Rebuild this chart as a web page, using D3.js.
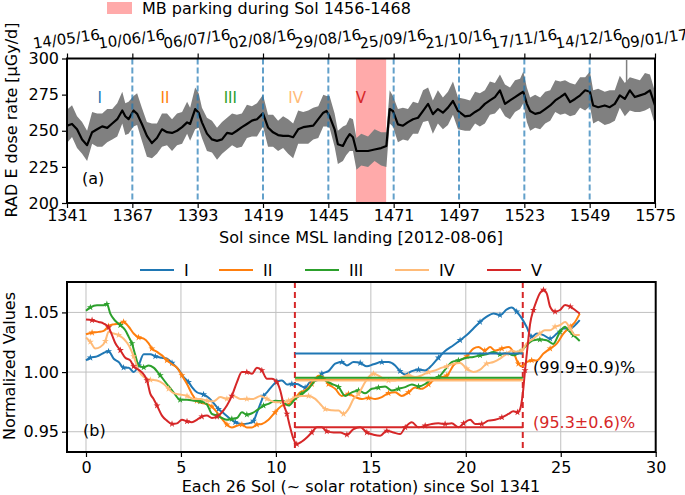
<!DOCTYPE html>
<html><head><meta charset="utf-8">
<script src="https://cdn.jsdelivr.net/npm/d3@7"></script>
<style>body{margin:0;background:#fff} text{font-family:"DejaVu Sans",sans-serif}</style>
</head><body><svg id="c" width="685" height="495"></svg>
<script>
// ---------------- DATA ----------------
const solTicks = [1341,1367,1393,1419,1445,1471,1497,1523,1549,1575];
const dateLabels = ["14/05/16","10/06/16","06/07/16","02/08/16","29/08/16","25/09/16","21/10/16","17/11/16","14/12/16","09/01/17"];
const boundarySols = [1367,1393,1419,1445,1471,1497,1523,1549];
const parkingSols = [1456,1468];
const rotationNames = ["I","II","III","IV","V"];
const rotationMid = [1354,1380,1406,1432,1458];
const doseTicks = [200,225,250,275,300];

const blackSol = [1341,1343,1345,1347,1349,1351,1353,1355,1357,1359,1361,1363,1364.2,1365.5,1367.5,1368.9,1370.8,1372.8,1374.8,1376.8,1378.8,1380.8,1382.8,1384.8,1386.8,1388.8,1390,1392,1393.4,1394.7,1396.7,1398.7,1400.7,1402.7,1404.7,1406.7,1408.6,1410.6,1412.6,1414.6,1416.6,1419,1421,1423,1425,1427,1429,1431,1433,1435,1437,1439,1441,1443,1444.3,1445.5,1447.5,1448.8,1450.8,1452.1,1453.5,1454.8,1456.2,1458.1,1460.8,1463.4,1466,1468.1,1469.4,1470.7,1472.7,1474.7,1476.7,1478.7,1480.7,1482.7,1484.7,1486.6,1488.6,1490.6,1492.6,1494.6,1496.6,1499.4,1501.4,1503.4,1505.3,1507.3,1509.3,1511.3,1513.3,1515.3,1517.3,1519.3,1521.3,1522.6,1524,1525.3,1527.3,1529.3,1531.3,1533.3,1535.3,1537.3,1539.2,1541.2,1543.2,1545.2,1547.2,1549.1,1550.4,1552.4,1555,1557,1559,1561,1563,1565,1567,1569,1571,1573,1575];
const blackRate = [253.5,254.7,251,244,240,249,251,253,252,255,258,264,260,258,264,261.7,254.7,246.5,241.5,245,251,249,248.5,250,252.5,255.8,254.7,265,262.5,255.8,248,244,243,244,248.5,247.8,250,252.5,254.7,257,258,262,252.3,248.9,247,246.5,246.5,245.5,251,252.5,253,253.5,258,262.5,263.7,260,251,240.7,239.5,244,247.7,245.5,236,236,236,237,238,239.5,265,263.7,254.4,253.5,256,258,259,263.7,268.6,261.5,265,262.5,266,270.6,263.7,260,260.5,263,265,268.6,271,273.3,278,268.6,271,273.3,275.6,277,268.6,263.7,261.7,262.5,265,267.5,271,273.3,275.6,269.8,272,274.5,278,277,267.5,266.3,267.5,266.3,268.6,274.5,272,278,273.3,274.5,275.6,278,267.5];
const grayHi = [264.5,267.7,260,256,250,263,262,262,265,265,269,277,269,270,274,276,266,256,255,255,262,262,258,262,263,270,266,280,276,266,259,257,252,256,259,262,261,262,268,267,269,275,261,261,257,260,258,255,264,263,264,266,267,275,274,274,262,250,253,254,259,258,245,248,246,251,249,249,278,274,265,266,265,270,269,278,280,271,278,273,277,284,273,272,271,277,276,278,284,283,289,282,280,285,286,291,280,273,275,273,277,278,285,284,285,283,282,287,287,291,278,279,277,278,278,288,283,287,286,285,290,289,277];
const grayLo = [241.5,245.7,238,234,229,241,239,239,242,244,246,255,247,248,253,254,243,232,231,234,239,240,236,240,241,248,243,251,252,245,236,235,230,234,237,240,238,239,245,246,246,253,239,239,236,238,234,231,241,241,241,244,245,253,253,252,239,227,229,233,236,236,223,226,225,229,226,225,255,253,242,244,243,248,248,256,257,248,255,251,254,261,251,250,250,255,253,255,261,262,266,260,258,263,265,269,256,250,252,251,255,257,263,261,262,260,261,266,264,267,255,257,254,255,257,266,260,264,263,263,264,266,254];
const spikeSol = [1563.7];
const spikeRange = [[283,299]];

// bottom panel
const rotXTicks = [0,5,10,15,20,25,30];
const normTicks = [0.95,1.00,1.05];
const serI = [[0,1.0098],[0.23,1.012],[0.58,1.0132],[0.93,1.016],[1.19,1.0174],[1.46,1.0112],[1.72,1.0084],[1.98,1.0037],[2.25,1.0037],[2.51,1.0],[2.77,1.0056],[3.04,1.0149],[3.39,1.0149],[3.65,1.0132],[4.0,1.012],[4.26,1.0112],[4.53,1.0076],[4.88,1.002],[5.14,0.9958],[5.4,0.9916],[5.58,0.9874],[5.84,0.9831],[6.19,0.9812],[6.46,0.9784],[6.72,0.974],[6.98,0.969],[7.25,0.9655],[7.6,0.9607],[7.86,0.958],[8.21,0.9565],[8.56,0.957],[8.82,0.959],[9.0,0.966],[9.18,0.9733],[9.35,0.980],[9.53,0.983],[9.79,0.988],[10.05,0.992],[10.32,0.993],[10.58,0.9896],[10.84,0.990],[11.1,0.990],[11.37,0.988],[11.54,0.987],[11.8,0.9916],[12.16,0.993],[12.42,0.9986],[12.77,1.0008],[13.12,1.007],[13.47,1.0084],[13.74,1.0056],[14.09,1.0084],[14.44,1.0076],[14.79,1.0048],[15.14,1.0065],[15.58,1.0084],[15.93,1.0084],[16.28,1.0056],[16.54,1.0008],[16.81,0.998],[17.16,1.0008],[17.51,1.002],[17.86,1.0014],[18.21,1.0056],[18.56,1.012],[18.91,1.0177],[19.35,1.0225],[19.7,1.0267],[20.05,1.031],[20.4,1.0365],[20.75,1.042],[21.1,1.0464],[21.46,1.0492],[21.8,1.0478],[22.16,1.0525],[22.42,1.0542],[22.68,1.0506],[22.95,1.045],[23.2,1.038],[23.47,1.0295],[23.74,1.0323],[24.09,1.031],[24.44,1.028],[24.8,1.0323],[25.14,1.0365],[25.5,1.0365],[25.84,1.0407],[26.0,1.0435]];
const serII = [[0,1.0317],[0.32,1.033],[0.67,1.0337],[0.93,1.0345],[1.19,1.0385],[1.46,1.040],[1.72,1.0407],[1.98,1.042],[2.25,1.038],[2.51,1.0323],[2.77,1.029],[3.04,1.028],[3.3,1.024],[3.47,1.0197],[3.74,1.0169],[4.0,1.014],[4.26,1.0098],[4.53,1.0065],[4.79,1.0037],[5.05,0.9972],[5.32,0.990],[5.58,0.9817],[5.84,0.976],[6.1,0.974],[6.37,0.9733],[6.63,0.971],[6.9,0.9663],[7.16,0.9607],[7.42,0.956],[7.68,0.9536],[7.95,0.955],[8.21,0.956],[8.47,0.9536],[8.74,0.9536],[9.0,0.956],[9.26,0.9565],[9.61,0.960],[9.96,0.9663],[10.32,0.9719],[10.67,0.9733],[11.02,0.9784],[11.28,0.983],[11.54,0.9846],[11.89,0.990],[12.25,0.997],[12.5,0.9958],[12.77,0.990],[13.12,0.986],[13.47,0.980],[13.82,0.9817],[14.18,0.979],[14.53,0.9775],[14.88,0.9784],[15.23,0.9775],[15.58,0.979],[15.93,0.9823],[16.28,0.983],[16.63,0.980],[16.98,0.983],[17.33,0.987],[17.68,0.986],[18.04,0.9896],[18.39,0.9944],[18.74,0.9958],[19.0,0.997],[19.35,1.0056],[19.7,1.0098],[20.05,1.0132],[20.4,1.0197],[20.67,1.021],[21.0,1.018],[21.28,1.021],[21.54,1.018],[21.9,1.0197],[22.25,1.021],[22.5,1.017],[22.77,1.007],[22.95,1.0048],[23.2,1.0084],[23.47,1.0098],[23.74,1.0098],[24.09,1.0155],[24.44,1.0197],[24.8,1.024],[25.14,1.0323],[25.5,1.038],[25.75,1.042],[26.0,1.049]];
const serIII = [[0,1.0514],[0.23,1.0542],[0.58,1.056],[0.93,1.056],[1.1,1.057],[1.28,1.049],[1.54,1.043],[1.81,1.0393],[2.07,1.035],[2.25,1.0295],[2.42,1.024],[2.6,1.014],[2.77,1.0056],[3.04,1.004],[3.3,1.0056],[3.56,1.0037],[3.91,0.9972],[4.26,0.990],[4.61,0.983],[4.96,0.9767],[5.32,0.9767],[5.67,0.976],[6.02,0.9755],[6.37,0.9728],[6.63,0.9649],[6.9,0.9635],[7.16,0.9615],[7.42,0.960],[7.68,0.9607],[7.95,0.9615],[8.21,0.9663],[8.47,0.9643],[8.74,0.9655],[9.09,0.969],[9.35,0.9719],[9.61,0.9733],[9.96,0.976],[10.32,0.9755],[10.67,0.9719],[11.02,0.9775],[11.37,0.9817],[11.72,0.986],[12.07,0.993],[12.33,0.9958],[12.6,0.993],[12.95,0.990],[13.3,0.9874],[13.65,0.980],[14.0,0.983],[14.35,0.9846],[14.7,0.9823],[15.05,0.986],[15.4,0.987],[15.75,0.988],[16.1,0.9846],[16.46,0.986],[16.81,0.9874],[17.16,0.9896],[17.51,0.988],[17.86,0.990],[18.21,0.9944],[18.56,0.9958],[18.91,1.002],[19.26,1.0084],[19.61,1.0098],[20.05,1.012],[20.4,1.0126],[20.75,1.014],[21.1,1.0149],[21.46,1.0169],[21.8,1.0149],[22.16,1.016],[22.5,1.014],[22.86,1.0169],[23.2,1.0225],[23.56,1.0267],[23.9,1.0272],[24.26,1.0267],[24.6,1.0235],[24.96,1.0337],[25.23,1.038],[25.4,1.035],[25.67,1.031],[26.0,1.026]];
const serIV = [[0,1.029],[0.23,1.0253],[0.49,1.0197],[0.75,1.021],[1.02,1.026],[1.19,1.0337],[1.46,1.0323],[1.72,1.031],[1.98,1.028],[2.25,1.0225],[2.51,1.0132],[2.77,1.0014],[3.04,0.9958],[3.39,0.9935],[3.74,0.993],[4.09,0.990],[4.35,0.986],[4.61,0.9823],[4.96,0.9812],[5.32,0.980],[5.67,0.9775],[6.02,0.9775],[6.37,0.976],[6.72,0.9755],[7.07,0.979],[7.42,0.9775],[7.77,0.980],[8.12,0.9775],[8.47,0.9775],[8.82,0.9775],[9.18,0.980],[9.53,0.9775],[9.96,0.9747],[10.32,0.9747],[10.67,0.976],[11.02,0.979],[11.37,0.980],[11.72,0.980],[12.07,0.9775],[12.33,0.9733],[12.6,0.969],[12.95,0.968],[13.3,0.9677],[13.56,0.9649],[13.82,0.969],[14.09,0.9775],[14.35,0.9817],[14.6,0.9888],[14.88,0.9958],[15.14,0.9986],[15.4,0.997],[15.67,0.9944],[15.93,0.993],[16.28,0.993],[16.63,0.9958],[16.98,0.9972],[17.33,0.9958],[17.68,0.9972],[18.04,1.0],[18.39,1.0014],[18.74,1.0037],[19.0,1.0048],[19.35,1.007],[19.7,1.0076],[20.05,1.0028],[20.4,1.0],[20.75,1.002],[21.1,1.007],[21.46,1.0084],[21.8,1.0112],[22.16,1.0155],[22.42,1.018],[22.68,1.017],[22.95,1.018],[23.2,1.024],[23.56,1.028],[23.9,1.0323],[24.16,1.035],[24.44,1.035],[24.7,1.038],[24.96,1.0393],[25.23,1.042],[25.5,1.0365],[25.75,1.031],[26.0,1.031]];
const serV = [[0,1.0441],[0.32,1.0435],[0.67,1.042],[0.93,1.0407],[1.19,1.0374],[1.37,1.031],[1.54,1.0244],[1.81,1.0183],[2.07,1.012],[2.33,1.0098],[2.51,1.0048],[2.77,1.002],[3.04,0.998],[3.21,0.993],[3.39,0.9817],[3.56,0.9775],[3.74,0.9719],[4.0,0.9635],[4.26,0.9593],[4.53,0.9565],[4.79,0.957],[5.05,0.960],[5.32,0.9587],[5.58,0.958],[5.84,0.960],[6.1,0.9626],[6.37,0.9635],[6.63,0.9615],[6.9,0.9626],[7.16,0.9663],[7.42,0.9719],[7.68,0.980],[7.95,0.9916],[8.21,1.0],[8.47,1.0],[8.74,0.9986],[9.0,1.0037],[9.26,1.0014],[9.53,0.9944],[9.79,0.9944],[10.05,0.9916],[10.23,0.9846],[10.4,0.9733],[10.58,0.9649],[10.75,0.9537],[10.93,0.9438],[11.1,0.9396],[11.37,0.9418],[11.63,0.9452],[11.89,0.9494],[12.16,0.9537],[12.42,0.9537],[12.68,0.9503],[13.04,0.9494],[13.39,0.9494],[13.74,0.9475],[14.09,0.9522],[14.44,0.9537],[14.79,0.9494],[15.14,0.9475],[15.49,0.9466],[15.84,0.9508],[16.19,0.9494],[16.54,0.948],[16.81,0.9537],[17.16,0.9579],[17.51,0.9537],[17.86,0.955],[18.21,0.9565],[18.56,0.957],[18.91,0.9565],[19.26,0.957],[19.61,0.9537],[19.88,0.957],[20.23,0.960],[20.49,0.9565],[20.84,0.9565],[21.19,0.9593],[21.54,0.960],[21.9,0.962],[22.25,0.9649],[22.5,0.9671],[22.72,0.9663],[22.86,0.969],[23.0,0.9817],[23.12,1.0014],[23.25,1.021],[23.39,1.0407],[23.56,1.052],[23.74,1.0604],[23.9,1.066],[24.09,1.0688],[24.26,1.066],[24.44,1.0548],[24.7,1.0506],[24.96,1.052],[25.23,1.0562],[25.5,1.0548],[25.75,1.052],[26.0,1.049]];
const meanLevels = [1.0155,0.9935,0.9952,0.9930,0.9537];
const meanRange = [11,23];
const annotLabels = ["(99.9\u00b10.9)%","(95.3\u00b10.6)%"];
const annotLevels = [1.004,0.958];

// ---------------- STYLE ----------------
const colors = ["#1f77b4","#ff7f0e","#2ca02c","#ffbb78","#d62728"];
const FS = 16;
const svg = d3.select("#c");

// ================= TOP PANEL =================
const xA = d3.scaleLinear().domain([1341,1575]).range([67,655]);
const yA = d3.scaleLinear().domain([200,300]).range([203,58.5]);
svg.append("clipPath").attr("id","clipA").append("rect")
  .attr("x",67).attr("y",58.5).attr("width",588).attr("height",144.5);
const gA = svg.append("g");
const pA = gA.append("g").attr("clip-path","url(#clipA)");

pA.append("rect").attr("x",xA(parkingSols[0])).attr("y",58.5)
  .attr("width",xA(parkingSols[1])-xA(parkingSols[0])).attr("height",144.5)
  .attr("fill","#ffaaaa");

const band = blackSol.map((s,i)=>({s,hi:grayHi[i],lo:grayLo[i]}));
pA.append("path").datum(band)
  .attr("d",d3.area().x(d=>xA(d.s)).y0(d=>yA(d.lo)).y1(d=>yA(d.hi)))
  .attr("fill","#808080");
spikeSol.forEach((s,i)=>{
  pA.append("line").attr("x1",xA(s)).attr("x2",xA(s))
    .attr("y1",yA(spikeRange[i][0])).attr("y2",yA(spikeRange[i][1]))
    .attr("stroke","#808080").attr("stroke-width",1.5);
});
pA.append("path").datum(blackSol.map((s,i)=>[s,blackRate[i]]))
  .attr("d",d3.line().x(d=>xA(d[0])).y(d=>yA(d[1])))
  .attr("fill","none").attr("stroke","#000").attr("stroke-width",2.2)
  .attr("stroke-linejoin","round");

boundarySols.forEach(s=>{
  pA.append("line").attr("x1",xA(s)).attr("x2",xA(s)).attr("y1",58.5).attr("y2",203)
    .attr("stroke","#1f77b4").attr("stroke-opacity",0.7).attr("stroke-width",2)
    .attr("stroke-dasharray","6,3");
});

rotationNames.forEach((n,i)=>{
  gA.append("text").attr("x",xA(rotationMid[i])).attr("y",yA(273))
    .attr("text-anchor","middle").attr("dominant-baseline","central")
    .attr("font-size",15).attr("fill",colors[i]).text(n);
});
gA.append("text").attr("x",82).attr("y",178).attr("dominant-baseline","central")
  .attr("font-size",FS).text("(a)");

// axes
const axA = gA.append("g").attr("transform","translate(0,203)")
  .call(d3.axisBottom(xA).tickValues(solTicks).tickFormat(d3.format("d")).tickSize(5).tickSizeOuter(0));
const ayA = gA.append("g").attr("transform","translate(67,0)")
  .call(d3.axisLeft(yA).tickValues(doseTicks).tickSize(5).tickSizeOuter(0));
const atA = gA.append("g").attr("transform","translate(0,58.5)")
  .call(d3.axisTop(xA).tickValues(solTicks).tickFormat("").tickSize(5).tickSizeOuter(0));
[axA,ayA,atA].forEach(a=>{a.select(".domain").remove();
  a.selectAll("text").attr("font-size",FS).attr("font-family","DejaVu Sans").attr("fill","#000");
  a.selectAll("line").attr("stroke","#000").attr("stroke-width",1.2);});
axA.selectAll("text").attr("dy","0.62em");
gA.append("rect").attr("x",67).attr("y",58.5).attr("width",588).attr("height",144.5)
  .attr("fill","none").attr("stroke","#000").attr("stroke-width",2);

solTicks.forEach((s,i)=>{
  gA.append("text").attr("transform",`translate(${xA(s)},44) rotate(-8)`)
    .attr("text-anchor","middle").attr("font-size",15).text(dateLabels[i]);
});

gA.append("text").attr("x",361).attr("y",243).attr("text-anchor","middle")
  .attr("font-size",FS).text("Sol since MSL landing [2012-08-06]");
gA.append("text").attr("transform","translate(17,120) rotate(-90)")
  .attr("text-anchor","middle").attr("font-size",FS).text("RAD E dose rate [\u03bcGy/d]");

// top legend
svg.append("rect").attr("x",107).attr("y",2).attr("width",25).attr("height",12).attr("fill","#ffaaaa");
svg.append("text").attr("x",142).attr("y",8).attr("dominant-baseline","central")
  .attr("font-size",FS).text("MB parking during Sol 1456-1468");

// ================= BOTTOM PANEL =================
const xB = d3.scaleLinear().domain([-1,30]).range([67,655.7]);
const yB = d3.scaleLinear().domain([0.933,1.0755]).range([452,282]);
svg.append("clipPath").attr("id","clipB").append("rect")
  .attr("x",67).attr("y",282).attr("width",588.7).attr("height",170);
const gB = svg.append("g");
const pB = gB.append("g").attr("clip-path","url(#clipB)");

rotXTicks.forEach(t=>pB.append("line").attr("x1",xB(t)).attr("x2",xB(t)).attr("y1",282).attr("y2",452)
  .attr("stroke","#c0c0c0").attr("stroke-width",1));
normTicks.forEach(t=>pB.append("line").attr("x1",67).attr("x2",655.7).attr("y1",yB(t)).attr("y2",yB(t))
  .attr("stroke","#c0c0c0").attr("stroke-width",1));

meanRange.forEach(t=>pB.append("line").attr("x1",xB(t)).attr("x2",xB(t)).attr("y1",282).attr("y2",452)
  .attr("stroke","#d62728").attr("stroke-width",2).attr("stroke-dasharray","6,4"));

const allSeries = [serI,serII,serIII,serIV,serV];
const lineB = d3.line().x(d=>xB(d[0])).y(d=>yB(d[1])).curve(d3.curveMonotoneX);
const star = d3.symbol().type(d3.symbolStar).size(15);
allSeries.forEach((s,i)=>{
  pB.append("path").datum(s).attr("d",lineB).attr("fill","none")
    .attr("stroke",colors[i]).attr("stroke-width",2);
  pB.selectAll(null).data(s.filter((d,j)=>j%3===1)).join("path")
    .attr("d",star).attr("transform",d=>`translate(${xB(d[0])},${yB(d[1])})`)
    .attr("fill",colors[i]);
});
meanLevels.forEach((m,i)=>{
  pB.append("line").attr("x1",xB(meanRange[0])).attr("x2",xB(meanRange[1]))
    .attr("y1",yB(m)).attr("y2",yB(m)).attr("stroke",colors[i]).attr("stroke-width",2);
});
gB.append("text").attr("x",533).attr("y",yB(annotLevels[0])).attr("dominant-baseline","central")
  .attr("font-size",FS).attr("fill","#000").text(annotLabels[0]);
gB.append("text").attr("x",533).attr("y",yB(annotLevels[1])).attr("dominant-baseline","central")
  .attr("font-size",FS).attr("fill","#d62728").text(annotLabels[1]);
gB.append("text").attr("x",83).attr("y",430).attr("dominant-baseline","central")
  .attr("font-size",FS).text("(b)");

const axB = gB.append("g").attr("transform","translate(0,452)")
  .call(d3.axisBottom(xB).tickValues(rotXTicks).tickFormat(d3.format("d")).tickSize(5).tickSizeOuter(0));
const ayB = gB.append("g").attr("transform","translate(67,0)")
  .call(d3.axisLeft(yB).tickValues(normTicks).tickFormat(d3.format(".2f")).tickSize(5).tickSizeOuter(0));
[axB,ayB].forEach(a=>{a.select(".domain").remove();
  a.selectAll("text").attr("font-size",FS).attr("font-family","DejaVu Sans").attr("fill","#000");
  a.selectAll("line").attr("stroke","#000").attr("stroke-width",1.2);});
axB.selectAll("text").attr("dy","0.8em");
gB.append("rect").attr("x",67).attr("y",282).attr("width",588.7).attr("height",170)
  .attr("fill","none").attr("stroke","#000").attr("stroke-width",2);

gB.append("text").attr("x",361).attr("y",492).attr("text-anchor","middle")
  .attr("font-size",FS).text("Each 26 Sol (~ solar rotation) since Sol 1341");
gB.append("text").attr("transform","translate(15,366) rotate(-90)")
  .attr("text-anchor","middle").attr("font-size",FS).text("Normalized Values");

// bottom legend
const legX = [140,219,305,395,487];
rotationNames.forEach((n,i)=>{
  svg.append("line").attr("x1",legX[i]).attr("x2",legX[i]+34).attr("y1",270).attr("y2",270)
    .attr("stroke",colors[i]).attr("stroke-width",2);
  svg.append("text").attr("x",legX[i]+44).attr("y",270).attr("dominant-baseline","central")
    .attr("font-size",FS).text(n);
});
</script></body></html>
